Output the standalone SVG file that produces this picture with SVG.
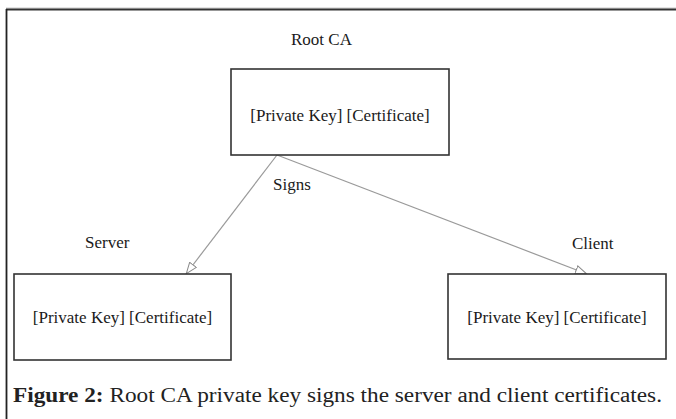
<svg xmlns="http://www.w3.org/2000/svg" width="676" height="419" viewBox="0 0 676 419">
<style>
.box{fill:#fff;stroke:#333;stroke-width:1.6}
.t{font-family:"Liberation Serif","Times New Roman",serif;font-size:17px;fill:#1a1a1a}
.edge{stroke:#9a9a9a;stroke-width:1.2;fill:none;marker-end:url(#tri)}
.cap{font-family:"Liberation Serif","Times New Roman",serif;font-size:20px;fill:#222}
</style>
<defs>
<marker id="tri" viewBox="0 0 12 10" refX="12" refY="5" markerWidth="12" markerHeight="10" markerUnits="userSpaceOnUse" orient="auto">
<path d="M0.5,0.8 L11.5,5 L0.5,9.2 Z" fill="#fff" stroke="#8a8a8a" stroke-width="1"/>
</marker>
</defs>
<rect width="676" height="419" fill="#fff"/>
<g id="frame">
<line x1="6" y1="8" x2="676" y2="8" stroke="#c8c8c8" stroke-width="1"/>
<line x1="6" y1="9.5" x2="676" y2="9.5" stroke="#333" stroke-width="1.8"/>
<line x1="6.5" y1="9" x2="6.5" y2="419" stroke="#222" stroke-width="1.8"/>
</g>
<g id="connectors">
<line class="edge" x1="277" y1="155" x2="186" y2="274"/>
<line class="edge" x1="277" y1="155" x2="587" y2="274"/>
<text class="t" x="273" y="190">Signs</text>
</g>
<g id="root">
<text class="t" x="291" y="45">Root CA</text>
<rect class="box" x="231" y="69" width="218" height="86"/>
<text class="t" x="340" y="121" text-anchor="middle">[Private Key] [Certificate]</text>
</g>
<g id="server">
<text class="t" x="85" y="248">Server</text>
<rect class="box" x="14" y="274" width="217" height="86"/>
<text class="t" x="122.5" y="323" text-anchor="middle">[Private Key] [Certificate]</text>
</g>
<g id="client">
<text class="t" x="572" y="249">Client</text>
<rect class="box" x="448" y="274" width="218" height="85"/>
<text class="t" x="557" y="323" text-anchor="middle">[Private Key] [Certificate]</text>
</g>
<g id="caption">
<text class="cap" x="13" y="402" textLength="649" lengthAdjust="spacingAndGlyphs"><tspan font-weight="bold">Figure 2:</tspan> Root CA private key signs the server and client certificates.</text>
</g>
</svg>
